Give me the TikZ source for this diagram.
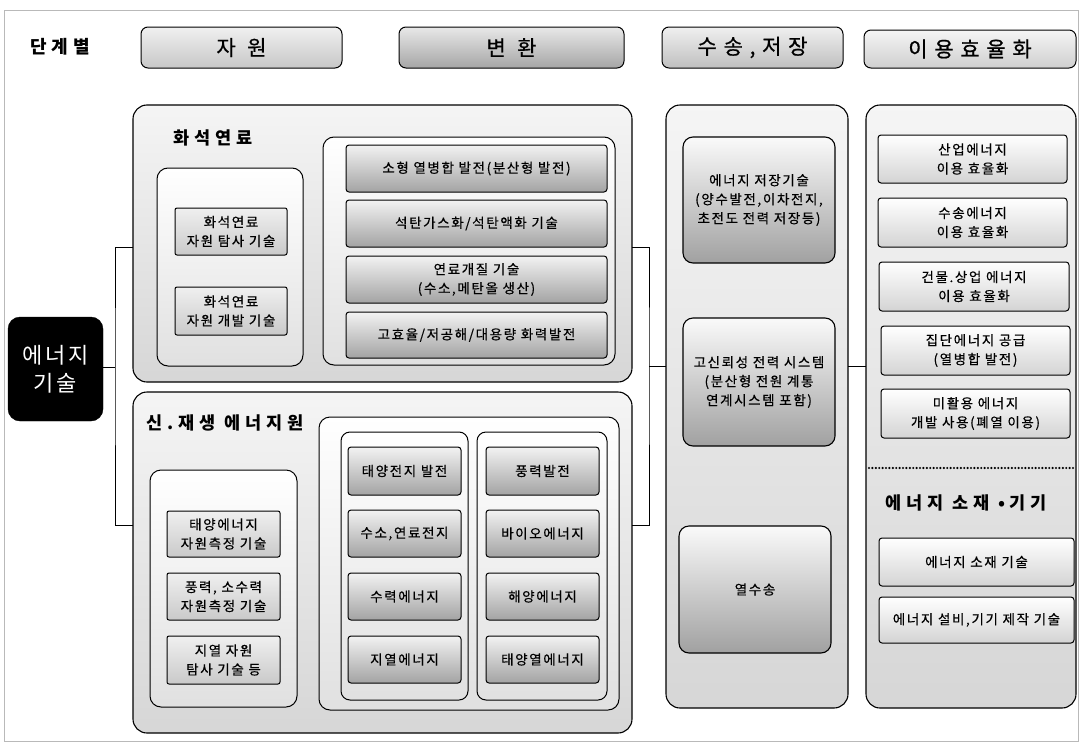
\documentclass[tikz,border=0pt]{standalone}
\usepackage{fontspec}
\setmainfont{Noto Sans CJK KR}
\newfontfamily\bodyf[LetterSpace=12,FakeBold=0.5]{Noto Sans CJK KR}
\newfontfamily\hdrf[LetterSpace=32,FakeBold=0.8]{Noto Sans CJK KR}
\newfontfamily\ttlf[LetterSpace=28]{Noto Sans CJK KR}
\newfontfamily\blkf[LetterSpace=12]{Noto Sans CJK KR}
\tikzset{
  every node/.style={inner sep=0pt, outer sep=0pt},
  sect/.style={draw, line width=1.1pt, rounded corners=14pt, top color=gray!8, bottom color=gray!32},
  innerbox/.style={draw, line width=1pt, rounded corners=11pt, top color=white, bottom color=gray!24},
  barbox/.style={draw, line width=1pt, rounded corners=3pt, top color=gray!10, bottom color=gray!72, align=center, font=\bodyf\fontsize{13.5}{19}\selectfont},
  lbox/.style={draw, line width=1pt, rounded corners=2pt, top color=gray!12, bottom color=gray!42, align=center, font=\bodyf\fontsize{13.5}{19}\selectfont},
  ebox/.style={draw, line width=1pt, rounded corners=3pt, top color=white, bottom color=gray!34, align=center, font=\bodyf\fontsize{13.5}{19}\selectfont},
  tbox/.style={draw, line width=1.1pt, rounded corners=10pt, top color=gray!4, bottom color=gray!74, align=center, font=\bodyf\fontsize{13.5}{19}\selectfont},
  hdr/.style={draw, line width=1pt, rounded corners=7pt, font=\hdrf\fontsize{21}{24}\selectfont},
  ttl/.style={font=\ttlf\bfseries\fontsize{17.5}{20}\selectfont},
  conn/.style={line width=1pt},
}
\begin{document}
\begin{tikzpicture}[x=1pt,y=-1pt]
\useasboundingbox[fill=white] (0,0) rectangle (1081,744);
\draw[gray!55, line width=0.8pt] (4,10) rectangle (1078,741);

% header row
\node[font=\ttlf\bfseries\fontsize{18}{20}\selectfont] (stage) at (60,47) {단계별};
\node[hdr, minimum width=201, minimum height=41, top color=gray!12, bottom color=gray!44] (h1) at (241.5,47.5) {자 원};
\node[hdr, minimum width=225, minimum height=41, top color=gray!18, bottom color=gray!70] (h2) at (511.5,47.5) {변 환};
\node[hdr, minimum width=181, minimum height=41, top color=gray!12, bottom color=gray!50] (h3) at (752.5,47.5) {수송,저장};
\node[hdr, minimum width=212, minimum height=38, top color=gray!8, bottom color=gray!38] (h4) at (970,49) {이용효율화};

% root
\node[draw, fill=black, rounded corners=12pt, minimum width=95, minimum height=104, text=white, align=center, font=\blkf\fontsize{22}{28}\selectfont] (root) at (55.5,369) {에너지\\기술};

% fossil fuel section
\node[sect, minimum width=499, minimum height=277] (fos) at (382.5,243.5) {};
\node[ttl, anchor=west] (fost) at (173,138) {화석연료};
\node[innerbox, minimum width=146, minimum height=198] (fosL) at (230,267) {};
\node[lbox, minimum width=112, minimum height=47] (fa) at (231,231.5) {화석연료\\자원 탐사 기술};
\node[lbox, minimum width=112, minimum height=48] (fb) at (231,311) {화석연료\\자원 개발 기술};
\node[innerbox, minimum width=292, minimum height=228] (fosR) at (469,251) {};
\node[barbox, minimum width=261, minimum height=47] (f1) at (476.5,168.5) {소형 열병합 발전(분산형 발전)};
\node[barbox, minimum width=261, minimum height=47] (f2) at (476.5,223.5) {석탄가스화/석탄액화 기술};
\node[barbox, minimum width=261, minimum height=47] (f3) at (476.5,279.5) {연료개질 기술\\(수소,메탄올 생산)};
\node[barbox, minimum width=261, minimum height=46] (f4) at (476.5,335) {고효율/저공해/대용량 화력발전};

% renewable section
\node[sect, minimum width=499, minimum height=341] (ren) at (382.5,562.5) {};
\node[ttl, anchor=west] (rent) at (146,423) {신.재생 에너지원};
\node[innerbox, minimum width=147, minimum height=237] (renL) at (223.5,588.5) {};
\node[lbox, minimum width=113, minimum height=46] (r1) at (223.5,534) {태양에너지\\자원측정 기술};
\node[lbox, minimum width=113, minimum height=47] (r2) at (223.5,596.5) {풍력, 소수력\\자원측정 기술};
\node[lbox, minimum width=113, minimum height=48] (r3) at (223.5,660) {지열 자원\\탐사 기술 등};
\node[innerbox, minimum width=300, minimum height=293] (renR) at (469,563.5) {};
\node[innerbox, rounded corners=9pt, minimum width=127, minimum height=268] (col1) at (404.5,566) {};
\node[innerbox, rounded corners=9pt, minimum width=130, minimum height=268] (col2) at (542,566) {};
\node[barbox, minimum width=113, minimum height=48] (c11) at (404.5,471) {태양전지 발전};
\node[barbox, minimum width=113, minimum height=47] (c12) at (404.5,533.5) {수소,연료전지};
\node[barbox, minimum width=113, minimum height=47] (c13) at (404.5,596.5) {수력에너지};
\node[barbox, minimum width=113, minimum height=47] (c14) at (404.5,659.5) {지열에너지};
\node[barbox, minimum width=113, minimum height=48] (c21) at (542.5,471) {풍력발전};
\node[barbox, minimum width=113, minimum height=47] (c22) at (542.5,533.5) {바이오에너지};
\node[barbox, minimum width=113, minimum height=47] (c23) at (542.5,596.5) {해양에너지};
\node[barbox, minimum width=113, minimum height=47] (c24) at (542.5,659.5) {태양열에너지};

% transport / storage column
\node[sect, minimum width=182, minimum height=603] (tr) at (757,406.5) {};
\node[tbox, minimum width=152, minimum height=126] (t1) at (759,200) {에너지 저장기술\\(양수발전,이차전지,\\초전도 전력 저장등)};
\node[tbox, minimum width=152, minimum height=128] (t2) at (759,382) {고신뢰성 전력 시스템\\(분산형 전원 계통\\연계시스템 포함)};
\node[tbox, minimum width=152, minimum height=127] (t3) at (755,589.5) {열수송};

% efficiency column
\node[sect, minimum width=210, minimum height=603] (ef) at (971,406.5) {};
\node[ebox, minimum width=189, minimum height=48] (e1) at (972.5,159) {산업에너지\\이용 효율화};
\node[ebox, minimum width=189, minimum height=49] (e2) at (972.5,222.5) {수송에너지\\이용 효율화};
\node[ebox, minimum width=190, minimum height=49] (e3) at (974,286.5) {건물.상업 에너지\\이용 효율화};
\node[ebox, minimum width=189, minimum height=49] (e4) at (975.5,350.5) {집단에너지 공급\\(열병합 발전)};
\node[ebox, minimum width=189, minimum height=49] (e5) at (975.5,413.5) {미활용 에너지\\개발 사용(폐열 이용)};
\coordinate (dl) at (869,468);
\coordinate (dr) at (1073,468);
\draw[line width=2.4pt, line cap=round, dash pattern=on 0pt off 3.4pt] (dl) -- (dr);
\node[ttl] (eqt) at (966,503) {에너지 소재 •기기};
\node[ebox, minimum width=195, minimum height=48] (e6) at (976.5,562) {에너지 소재 기술};
\node[ebox, minimum width=195, minimum height=46] (e7) at (976.5,620) {에너지 설비,기기 제작 기술};

% connectors
\coordinate (jl) at (115,367);
\coordinate (fosW) at (133,247);
\coordinate (renW) at (133,525);
\coordinate (fosE) at (632,247);
\coordinate (renE) at (632,525);
\coordinate (jr) at (649,366);
\coordinate (trW) at (666,366);
\coordinate (trE) at (848,366);
\coordinate (efW) at (866,366);
\draw[conn] (root.east |- jl) -- (jl);
\draw[conn] (fosW) -| (jl) |- (renW);
\draw[conn] (fosE) -| (jr) |- (renE);
\draw[conn] (jr) -- (trW);
\draw[conn] (trE) -- (efW);
\end{tikzpicture}
\end{document}
